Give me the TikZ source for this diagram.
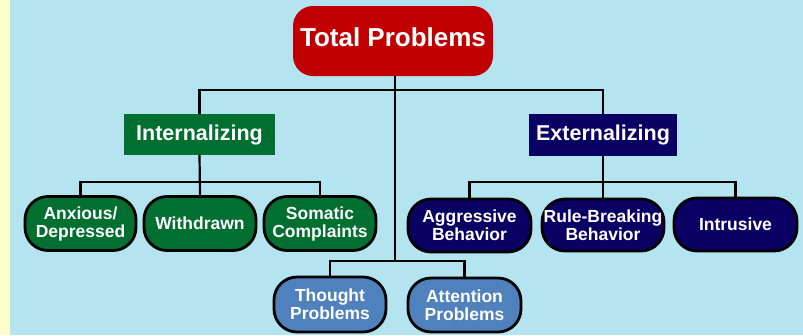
\documentclass[tikz,border=0pt]{standalone}
\usepackage{fontspec}
\setmainfont{Liberation Sans}
\definecolor{bgblue}{RGB}{180,228,239}
\definecolor{strip}{RGB}{255,255,204}
\definecolor{tred}{RGB}{192,0,0}
\definecolor{igreen}{RGB}{0,111,48}
\definecolor{enavy}{RGB}{10,0,100}
\definecolor{mblue}{RGB}{79,129,189}
\tikzset{
  conn/.style={draw=black,line width=2.2pt},
  pill/.style={rectangle,rounded corners=23pt,draw=black,line width=2.8pt,text=white,
    font=\bfseries\fontsize{17.5}{18}\selectfont,align=center,inner sep=0pt,
    minimum height=54pt},
  header/.style={rectangle,text=white,font=\bfseries\fontsize{21.5}{24}\selectfont,inner sep=0pt},
}
\begin{document}
\begin{tikzpicture}[x=1pt,y=-1pt]
\useasboundingbox (0,0) rectangle (803,335);
\fill[strip] (0,0) rectangle (803,335);
\fill[bgblue] (10,0) rectangle (803,335);
% nodes
\node[rectangle,rounded corners=20pt,fill=tred,text=white,font=\bfseries\fontsize{26}{28}\selectfont,
  minimum width=200pt,minimum height=70pt,inner sep=0pt,text depth=8pt] (total) at (393,41) {Total Problems};
\node[header,fill=igreen,minimum width=151pt,minimum height=41pt] (intern) at (199.5,134.5) {Internalizing};
\node[header,fill=enavy,minimum width=148pt,minimum height=42pt] (extern) at (603,135) {Externalizing};
\node[pill,fill=igreen,minimum width=111pt] (anx) at (80.5,223.5) {Anxious/\\Depressed};
\node[pill,fill=igreen,minimum width=112pt] (wd) at (200,223.5) {Withdrawn};
\node[pill,fill=igreen,minimum width=112pt] (som) at (320,223.5) {Somatic\\Complaints};
\node[pill,fill=enavy,minimum width=123pt,minimum height=53pt] (agg) at (469.5,225.5) {Aggressive\\Behavior};
\node[pill,fill=enavy,minimum width=122pt,minimum height=52pt] (rule) at (603,225) {Rule-Breaking\\Behavior};
\node[pill,fill=enavy,minimum width=123pt,minimum height=53pt] (intr) at (735.5,224.5) {Intrusive};
\node[pill,fill=mblue,minimum width=112pt,minimum height=55pt] (thought) at (330,304.5) {Thought\\Problems};
\node[pill,fill=mblue,minimum width=113pt,minimum height=54pt] (att) at (464.5,305) {Attention\\Problems};
% junctions
\coordinate (j1) at (395,90);
\coordinate (j2) at (199.5,182);
\coordinate (j3) at (603,182);
\coordinate (j4) at (395,261);
% connectors
\draw[conn] (intern.north) |- (j1) -| (extern.north);
\draw[conn] (total.south -| j1) -- (j4);
\draw[conn] (thought.north) |- (j4) -| (att.north);
\draw[conn] (intern.south) -- (wd.north);
\draw[conn] (anx.north) |- (j2) -| (som.north);
\draw[conn] (extern.south) -- (rule.north);
\draw[conn] (agg.north) |- (j3) -| (intr.north);
\end{tikzpicture}
\end{document}
